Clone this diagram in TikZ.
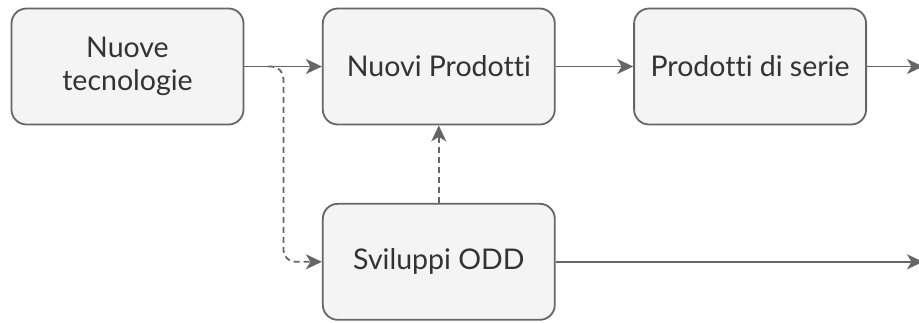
\documentclass[tikz,border=0pt]{standalone}
\usepackage{fontspec}
\setmainfont{Lato}[Ligatures=NoCommon]
\usetikzlibrary{arrows.meta,positioning,calc}
\definecolor{linegray}{HTML}{666666}
\definecolor{boxfill}{HTML}{F4F4F4}
\definecolor{txtgray}{HTML}{333333}
\tikzset{
  box/.style={draw=linegray, fill=boxfill, line width=1.8pt, rounded corners=15pt,
    minimum width=232pt, minimum height=116pt, align=center, text=txtgray,
    font=\fontsize{28.5}{33}\selectfont},
  link/.style={draw=linegray, line width=1.8pt, -{Stealth[length=16pt,width=15pt,inset=4.5pt]}},
  dlink/.style={link, dash pattern=on 6pt off 4pt}
}
\begin{document}
\begin{tikzpicture}[x=1pt,y=-1pt]
\useasboundingbox (0,0) rectangle (919,322);
% Boxes
\node[box] (tech) at (127.5,66.5) {Nuove\\tecnologie};
\node[box, right=77.5pt of tech] (nuovi) {Nuovi Prodotti};
\node[box, right=77.5pt of nuovi] (serie) {Prodotti di serie};
\node[box, below=77.5pt of nuovi] (odd) {Sviluppi ODD};
% Free ends
\coordinate (outSerie) at ($(serie.east)+(56,0)$);
\coordinate (outOdd) at (outSerie |- odd.east);
\coordinate (split) at ($(tech.east)+(24,0)$);
% Links
\draw[link] (tech) -- (nuovi);
\draw[link] (nuovi) -- (serie);
\draw[link] (serie) -- (outSerie);
\draw[link] (odd) -- (outOdd);
\draw[dlink, rounded corners=12pt] (split) -- ++(15,0) |- (odd.west);
\draw[dlink] (odd) -- (nuovi);
\end{tikzpicture}
\end{document}
